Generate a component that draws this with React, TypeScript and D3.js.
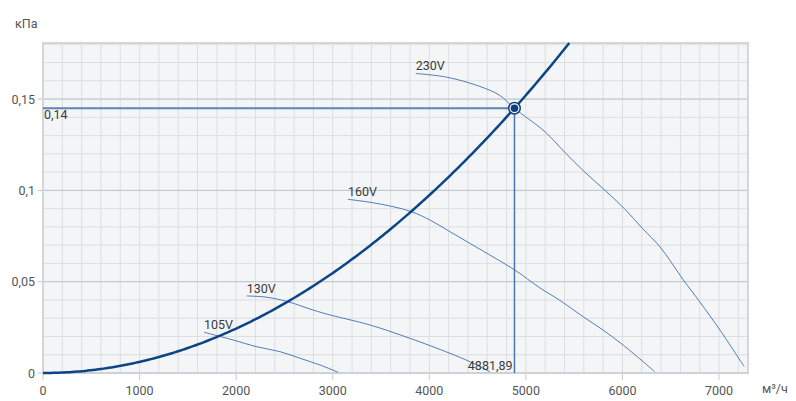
import React from "react";
import * as d3 from "d3";

const xTicks = [0, 1000, 2000, 3000, 4000, 5000, 6000, 7000];
const yTicks = [0, 0.05, 0.1, 0.15];
const yTickLabels = ["0", "0,05", "0,1", "0,15"];

const fan230: [number, number][] = [[3860,0.164],[4180,0.162],[4520,0.157],[4730,0.152],[4880,0.145],[5200,0.132],[5400,0.121],[5610,0.110],[5820,0.100],[6020,0.090],[6210,0.079],[6390,0.069],[6630,0.051],[6800,0.039],[7010,0.0235],[7260,0.0035]];
const fan160: [number, number][] = [[3157,0.0951],[3385,0.0935],[3623,0.0911],[3817,0.0883],[4006,0.0838],[4213,0.0774],[4420,0.0710],[4627,0.0646],[4886,0.0564],[5145,0.0466],[5352,0.0398],[5593,0.0308],[5800,0.0235],[6007,0.0153],[6214,0.0062],[6335,0.0007]];
const fan130: [number, number][] = [[2109,0.0422],[2316,0.0415],[2539,0.0390],[2795,0.0345],[2971,0.0318],[3385,0.0263],[3799,0.0190],[4213,0.0108],[4420,0.0062],[4627,0.0007]];
const fan105: [number, number][] = [[1667,0.0223],[1812,0.0203],[1967,0.0181],[2212,0.0144],[2453,0.0117],[2660,0.0081],[2867,0.0044],[3057,0.0004]];
const fanLabels = ["230V", "160V", "130V", "105V"];

const opQ = 4881.89;
const opP = 0.145;
const opLabelQ = "4881,89";
const opLabelP = "0,14";

const X0 = 43, X1 = 748, Y0 = 373, Y1 = 43;
const QMAX = 7300, PMAX = 0.1807;

export default function App() {
  const x = d3.scaleLinear().domain([0, QMAX]).range([X0, X1]);
  const y = d3.scaleLinear().domain([0, PMAX]).range([Y0, Y1]);
  const line = d3.line<[number, number]>().x(d => x(d[0])).y(d => y(d[1])).curve(d3.curveCatmullRom.alpha(0.5));

  const k = opP / (opQ * opQ);
  const qTop = Math.sqrt(PMAX / k);
  const sys: [number, number][] = d3.range(0, 201).map(i => {
    const q = (qTop * i) / 200;
    return [q, k * q * q];
  });
  const sysLine = d3.line<[number, number]>().x(d => x(d[0])).y(d => y(d[1]));

  const vGrid = d3.range(0, QMAX, 200);
  const hGrid = d3.range(0, 0.18001, 0.01);
  const fans = [fan230, fan160, fan130, fan105];
  const font = "Roboto, 'Noto Sans', sans-serif";

  return (
    <svg width={796} height={401} style={{ position: "absolute", left: 0, top: 0 }} fontFamily={font}>
      <rect x={X0} y={Y1} width={X1 - X0} height={Y0 - Y1} fill="#f4f5f7" />
      {vGrid.map((v, i) => (
        <line key={"v" + i} x1={x(v)} x2={x(v)} y1={Y1} y2={Y0} stroke="#dcdee2" strokeWidth={1} />
      ))}
      {hGrid.map((v, i) => (
        <line key={"h" + i} x1={X0} x2={X1} y1={y(v)} y2={y(v)} stroke="#dcdee2" strokeWidth={1} />
      ))}
      {yTicks.map((v, i) => (
        <line key={"hm" + i} x1={X0 - 5} x2={X1} y1={y(v)} y2={y(v)} stroke="#bcc5d0" strokeWidth={1} />
      ))}
      {xTicks.map((v, i) => (
        <line key={"xt" + i} x1={x(v)} x2={x(v)} y1={Y0} y2={Y0 + 7} stroke="#c8cdd4" strokeWidth={1} />
      ))}
      <rect x={X0} y={Y1} width={X1 - X0} height={Y0 - Y1} fill="none" stroke="#d3d7dc" strokeWidth={2} />
      <line x1={X0} x2={X1} y1={Y0} y2={Y0} stroke="#cdd2d8" strokeWidth={2} />

      {fans.map((f, i) => (
        <path key={"f" + i} d={line(f) || ""} fill="none" stroke="#3f6fae" strokeWidth={0.9} />
      ))}
      {fans.map((f, i) => (
        <text key={"fl" + i} x={x(f[0][0])} y={y(f[0][1]) - 3} fontSize={12.5} fill="#3a3a3a">{fanLabels[i]}</text>
      ))}

      <line x1={X0} x2={x(opQ)} y1={y(opP)} y2={y(opP)} stroke="#5b84b8" strokeWidth={2} />
      <line x1={x(opQ)} x2={x(opQ)} y1={y(opP)} y2={Y0} stroke="#4b78b2" strokeWidth={1.5} />

      <path d={sysLine(sys) || ""} fill="none" stroke="#0c4585" strokeWidth={2.5} />

      <circle cx={x(opQ)} cy={y(opP)} r={6.5} fill="#0c3f7c" />
      <circle cx={x(opQ)} cy={y(opP)} r={5} fill="#ffffff" />
      <circle cx={x(opQ)} cy={y(opP)} r={3.8} fill="#0c3f7c" />

      <text x={X0 + 1} y={y(opP) + 11} fontSize={12.5} fill="#3a3a3a">{opLabelP}</text>
      <text x={x(opQ) - 2} y={Y0 - 3} fontSize={12.5} fill="#3a3a3a" textAnchor="end">{opLabelQ}</text>

      {yTicks.map((v, i) => (
        <text key={"yl" + i} x={35} y={y(v) + 4.5} fontSize={12.5} fill="#555" textAnchor="end">{yTickLabels[i]}</text>
      ))}
      {xTicks.map((v, i) => (
        <text key={"xl" + i} x={x(v)} y={395} fontSize={12.5} fill="#555" textAnchor="middle">{String(v)}</text>
      ))}
      <text x={15} y={28} fontSize={12.5} fill="#555">кПа</text>
      <text x={762} y={393} fontSize={12.5} fill="#555">м³/ч</text>
    </svg>
  );
}
